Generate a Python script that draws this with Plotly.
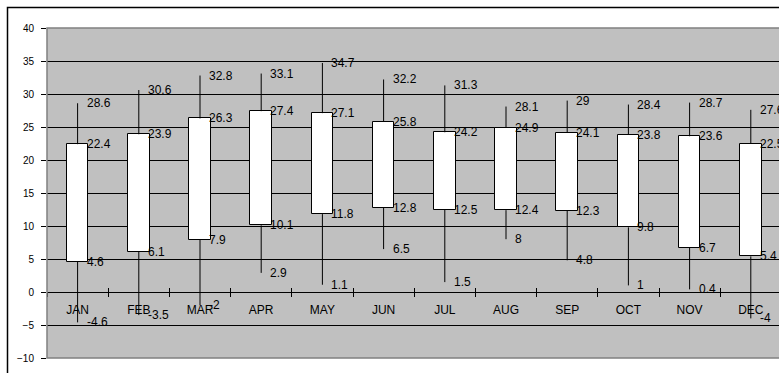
import plotly.graph_objects as go

# Monthly temperature ranges: extreme high, box top, box bottom, extreme low
months = ["JAN", "FEB", "MAR", "APR", "MAY", "JUN",
          "JUL", "AUG", "SEP", "OCT", "NOV", "DEC"]
high = [28.6, 30.6, 32.8, 33.1, 34.7, 32.2, 31.3, 28.1, 29, 28.4, 28.7, 27.6]
box_top = [22.4, 23.9, 26.3, 27.4, 27.1, 25.8, 24.2, 24.9, 24.1, 23.8, 23.6, 22.5]
box_bottom = [4.6, 6.1, 7.9, 10.1, 11.8, 12.8, 12.5, 12.4, 12.3, 9.8, 6.7, 5.4]
low = [-4.6, -3.5, -2, 2.9, 1.1, 6.5, 1.5, 8, 4.8, 1, 0.4, -4]
y_ticks = list(range(-10, 45, 5))

FONT = "Liberation Sans, Arial, sans-serif"
W, H = 779, 373
M_L, M_R, M_T, M_B = 47, 0, 28, 15
CAT_PX = 61.2  # pixel width of one month slot

fig = go.Figure()

# whiskers: high -> box top and box bottom -> low, one segment each
wx, wy = [], []
for m, hi, top, bot, lo in zip(months, high, box_top, box_bottom, low):
    wx += [m, m, None, m, m, None]
    wy += [hi, top, None, bot, lo, None]
fig.add_trace(go.Scatter(
    x=wx, y=wy, mode="lines", xaxis="x2",
    line=dict(color="black", width=1), hoverinfo="skip", showlegend=False))

# white boxes between box bottom and box top
fig.add_trace(go.Bar(
    x=months, base=box_bottom,
    y=[t - b for t, b in zip(box_top, box_bottom)],
    width=0.35, marker=dict(color="white", line=dict(color="black", width=1)),
    showlegend=False, hoverinfo="skip"))

# value labels to the right of each point
anns = []
for m, *vals in zip(months, high, box_top, box_bottom, low):
    for v in vals:
        anns.append(dict(
            x=m, y=v, xref="x", yref="y", text=f"{v:g}", showarrow=False,
            xanchor="left", yanchor="middle", xshift=7,
            font=dict(family=FONT, size=12, color="black")))

plot_w = W - M_L - M_R
x_range = [-0.5, -0.5 + plot_w / CAT_PX]
zero_pos = (0 - y_ticks[0]) / (y_ticks[-1] - y_ticks[0])

axis_common = dict(
    type="category", categoryorder="array", categoryarray=months,
    range=x_range, anchor="free", position=zero_pos,
    tickson="boundaries", ticklen=4, tickwidth=1, tickcolor="black",
    showgrid=False, zeroline=False)

fig.update_layout(
    width=W, height=H,
    margin=dict(l=M_L, r=M_R, t=M_T, b=M_B, pad=0),
    paper_bgcolor="white", plot_bgcolor="#C0C0C0",
    font=dict(family=FONT, size=12, color="black"),
    bargap=0,
    xaxis=dict(**axis_common, ticks="outside", showline=True,
               linecolor="black", linewidth=1, ticklabelstandoff=7,
               tickfont=dict(family=FONT, size=12, color="black")),
    xaxis2=dict(**axis_common, overlaying="x", matches="x", ticks="inside",
                showline=False, showticklabels=False),
    yaxis=dict(range=[y_ticks[0], y_ticks[-1]], tickvals=y_ticks,
               ticks="outside", ticklen=5, tickcolor="black",
               showgrid=True, gridcolor="black", gridwidth=1,
               zeroline=False, showline=False, ticklabelstandoff=5,
               tickfont=dict(family=FONT, size=10, color="black")),
    annotations=anns,
    shapes=[
        # plot area frame
        dict(type="rect", xref="paper", yref="paper", x0=0, x1=1.02,
             y0=0, y1=1, line=dict(color="#808080", width=1.5), layer="above"),
        # outer chart frame
        dict(type="rect", xref="paper", yref="paper",
             x0=(7.5 - M_L) / plot_w, x1=1.05,
             y0=-0.1, y1=(H - M_B - 7.5) / (H - M_T - M_B),
             line=dict(color="black", width=1.5), layer="above"),
    ],
)

fig.write_html("out.html")
